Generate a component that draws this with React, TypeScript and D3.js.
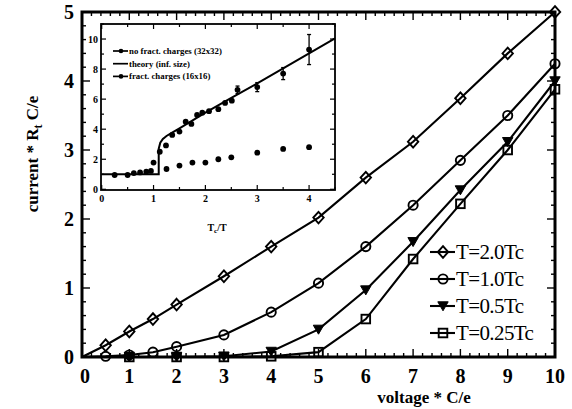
import React from "react";
import * as d3 from "d3";

// ---------- main plot data ----------
const xT20 = [0, 0.5, 1, 1.5, 2, 3, 4, 5, 6, 7, 8, 9, 10];
const yT20 = [0, 0.17, 0.37, 0.55, 0.76, 1.17, 1.6, 2.02, 2.6, 3.12, 3.75, 4.4, 5.0];
const xT10 = [0, 0.5, 1, 1.5, 2, 3, 4, 5, 6, 7, 8, 9, 10];
const yT10 = [0, 0.01, 0.03, 0.07, 0.15, 0.32, 0.65, 1.07, 1.6, 2.2, 2.85, 3.5, 4.25];
const xT05 = [0, 1, 2, 3, 4, 5, 6, 7, 8, 9, 10];
const yT05 = [0, 0, 0, 0.01, 0.08, 0.4, 0.97, 1.67, 2.42, 3.12, 4.0];
const xT025 = [0, 1, 2, 3, 4, 5, 6, 7, 8, 9, 10];
const yT025 = [0, 0, 0, 0, 0.01, 0.07, 0.55, 1.42, 2.22, 3.0, 3.88];
const seriesNames = ["T=2.0Tc", "T=1.0Tc", "T=0.5Tc", "T=0.25Tc"];
const xTicks = [0, 1, 2, 3, 4, 5, 6, 7, 8, 9, 10];
const yTicks = [0, 1, 2, 3, 4, 5];

// ---------- inset data ----------
const insetUpperX = [0.25, 0.5, 0.62, 0.74, 0.86, 0.95, 1.0, 1.12, 1.24, 1.36, 1.5, 1.62, 1.73, 1.84, 1.94, 2.07, 2.25, 2.38, 2.51, 2.62, 3.0, 3.5, 4.0];
const insetUpperY = [0.95, 0.95, 1.08, 1.12, 1.17, 1.22, 1.78, 2.5, 2.92, 3.62, 3.84, 4.5, 4.35, 4.95, 5.1, 5.2, 5.33, 5.75, 5.9, 6.62, 6.8, 7.7, 9.3];
const insetUpperErr = [0, 0, 0, 0, 0, 0, 0, 0, 0, 0, 0, 0, 0, 0, 0, 0, 0, 0, 0, 0.25, 0.3, 0.4, 1.0];
const insetLowerX = [1.25, 1.5, 1.75, 2.0, 2.25, 2.5, 3.0, 3.5, 4.0];
const insetLowerY = [1.35, 1.58, 1.78, 1.78, 2.0, 2.13, 2.44, 2.69, 2.8];
const theoryX = [0, 1.1, 1.1, 1.13, 1.18, 1.25, 1.35, 1.5, 2.0, 2.5, 3.0, 3.5, 4.0, 4.5];
const theoryY = [1.0, 1.0, 2.7, 3.1, 3.35, 3.55, 3.75, 4.05, 5.1, 6.08, 7.05, 8.05, 9.05, 10.05];
const insetXTicks = [0, 1, 2, 3, 4];
const insetYTicks = [0, 2, 4, 6, 8, 10];
const insetLegend = ["no fract. charges (32x32)", "theory (inf. size)", "fract. charges (16x16)"];

const FONT = "'Liberation Serif', 'DejaVu Serif', serif";

function Marker({ kind, x, y }: { kind: number; x: number; y: number }) {
  const s = 5.2;
  if (kind === 0)
    return <path d={`M${x},${y - s - 0.6}L${x + s},${y}L${x},${y + s + 0.6}L${x - s},${y}Z`} fill="none" stroke="#000" strokeWidth={1.9} />;
  if (kind === 1) return <circle cx={x} cy={y} r={4.6} fill="none" stroke="#000" strokeWidth={1.9} />;
  if (kind === 2)
    return <path d={`M${x - 5.2},${y - 4.2}L${x + 5.2},${y - 4.2}L${x},${y + 4.8}Z`} fill="#000" stroke="#000" strokeWidth={1} />;
  return <rect x={x - 4.3} y={y - 4.3} width={8.6} height={8.6} fill="none" stroke="#000" strokeWidth={1.9} />;
}

export default function App() {
  const W = 572, H = 409;
  const L = 82, R = 555, T = 12, B = 357;
  const x = d3.scaleLinear().domain([0, 10]).range([L, R]);
  const y = d3.scaleLinear().domain([0, 5]).range([B, T]);

  const series = [
    { xs: xT20, ys: yT20 },
    { xs: xT10, ys: yT10 },
    { xs: xT05, ys: yT05 },
    { xs: xT025, ys: yT025 },
  ];
  const line = d3.line<[number, number]>().x((d) => x(d[0])).y((d) => y(d[1]));

  // inset
  const iL = 101, iR = 335, iT = 24, iB = 190;
  const ix = d3.scaleLinear().domain([0, 4.5]).range([iL + 0.7, iR]);
  const iy = d3.scaleLinear().domain([0, 11]).range([iB - 0.7, iT]);
  const iline = d3.line<[number, number]>().x((d) => ix(d[0])).y((d) => iy(d[1]));

  const xMinor = d3.range(0, 10.001, 0.2);
  const yMinor = d3.range(0, 5.001, 0.2);
  const ixMinor = d3.range(0, 4.501, 0.5);
  const iyMinor = d3.range(0, 11.001, 1);

  return (
    <svg width={W} height={H} style={{ position: "fixed", left: 0, top: 0, background: "#fff" }} fontFamily={FONT}>
      <rect width={W} height={H} fill="#fff" />
      {/* main minor ticks */}
      <g stroke="#000" strokeWidth={1.4}>
        {xMinor.map((v, i) => {
          const major = Math.abs(v - Math.round(v)) < 1e-6;
          const len = major ? 8 : 4;
          return (
            <g key={"xm" + i}>
              <line x1={x(v)} x2={x(v)} y1={B} y2={B - len} />
              <line x1={x(v)} x2={x(v)} y1={T} y2={T + len} />
            </g>
          );
        })}
        {yMinor.map((v, i) => {
          const major = Math.abs(v - Math.round(v)) < 1e-6;
          const len = major ? 8 : 4;
          return (
            <g key={"ym" + i}>
              <line x1={L} x2={L + len} y1={y(v)} y2={y(v)} />
              <line x1={R} x2={R - len} y1={y(v)} y2={y(v)} />
            </g>
          );
        })}
      </g>
      {/* series lines */}
      {series.map((s, k) => (
        <path key={"l" + k} d={line(s.xs.map((v, i) => [v, s.ys[i]] as [number, number])) || ""} fill="none" stroke="#000" strokeWidth={2.1} />
      ))}
      {series.map((s, k) =>
        s.xs.map((v, i) => (v === 0 ? null : <Marker key={`m${k}-${i}`} kind={k} x={x(v)} y={y(s.ys[i])} />))
      )}
      {/* frame */}
      <rect x={L} y={T} width={R - L} height={B - T} fill="none" stroke="#000" strokeWidth={3} />
      {/* tick labels */}
      <g fontSize={20} fontWeight="bold" fill="#000">
        {xTicks.map((v) => (
          <text key={"xt" + v} x={x(v) + (v === 0 ? 3 : 0)} y={383} textAnchor="middle">{v}</text>
        ))}
        {yTicks.map((v) => (
          <text key={"yt" + v} x={L - 8} y={y(v) + 7} textAnchor="end">{v}</text>
        ))}
      </g>
      {/* axis titles */}
      <text x={424} y={403} textAnchor="middle" fontSize={17} fontWeight="bold">voltage * C/e</text>
      <text transform="translate(38,154) rotate(-90)" textAnchor="middle" fontSize={17} fontWeight="bold">
        current * R<tspan fontSize={12} dy={4}>t</tspan><tspan dy={-4}> C/e</tspan>
      </text>
      {/* legend */}
      {seriesNames.map((n, k) => {
        const ly = 252 + k * 27;
        return (
          <g key={"lg" + k}>
            <line x1={430} x2={455} y1={ly} y2={ly} stroke="#000" strokeWidth={2.1} />
            <Marker kind={k} x={443} y={ly} />
            <text x={456} y={ly + 7} fontSize={21} letterSpacing={-0.6}>{n}</text>
          </g>
        );
      })}

      {/* inset */}
      <rect x={iL} y={iT} width={iR - iL} height={iB - iT} fill="#fff" />
      <g stroke="#000" strokeWidth={1.2}>
        {ixMinor.map((v, i) => {
          const len = Math.abs(v - Math.round(v)) < 1e-6 ? 5 : 3;
          return (
            <g key={"ixm" + i}>
              <line x1={ix(v)} x2={ix(v)} y1={iB} y2={iB - len} />
              <line x1={ix(v)} x2={ix(v)} y1={iT} y2={iT + len} />
            </g>
          );
        })}
        {iyMinor.map((v, i) => {
          const len = v % 2 === 0 ? 5 : 3;
          return (
            <g key={"iym" + i}>
              <line x1={iL} x2={iL + len} y1={iy(v)} y2={iy(v)} />
              <line x1={iR} x2={iR - len} y1={iy(v)} y2={iy(v)} />
            </g>
          );
        })}
      </g>
      <path d={iline(theoryX.map((v, i) => [v, theoryY[i]] as [number, number])) || ""} fill="none" stroke="#000" strokeWidth={2} />
      {insetUpperX.map((v, i) =>
        insetUpperErr[i] > 0 ? (
          <g key={"eb" + i} stroke="#000" strokeWidth={1.3}>
            <line x1={ix(v)} x2={ix(v)} y1={iy(insetUpperY[i] - insetUpperErr[i])} y2={iy(insetUpperY[i] + insetUpperErr[i])} />
            <line x1={ix(v) - 2} x2={ix(v) + 2} y1={iy(insetUpperY[i] - insetUpperErr[i])} y2={iy(insetUpperY[i] - insetUpperErr[i])} />
            <line x1={ix(v) - 2} x2={ix(v) + 2} y1={iy(insetUpperY[i] + insetUpperErr[i])} y2={iy(insetUpperY[i] + insetUpperErr[i])} />
          </g>
        ) : null
      )}
      {insetUpperX.map((v, i) => (
        <circle key={"iu" + i} cx={ix(v)} cy={iy(insetUpperY[i])} r={2.9} fill="#000" />
      ))}
      {insetLowerX.map((v, i) => (
        <circle key={"il" + i} cx={ix(v)} cy={iy(insetLowerY[i])} r={2.9} fill="#000" />
      ))}
      <rect x={iL} y={iT} width={iR - iL} height={iB - iT} fill="none" stroke="#000" strokeWidth={1.8} />
      <g fontSize={10} fontWeight="bold">
        {insetXTicks.map((v) => (
          <text key={"ixt" + v} x={ix(v)} y={202} textAnchor="middle">{v}</text>
        ))}
        {insetYTicks.map((v) => (
          <text key={"iyt" + v} x={iL - 3} y={iy(v) + 3.5} textAnchor="end">{v}</text>
        ))}
      </g>
      <text x={217} y={231} textAnchor="middle" fontSize={10} fontWeight="bold">
        T<tspan fontSize={7} dy={2}>c</tspan><tspan dy={-2}>/T</tspan>
      </text>
      {insetLegend.map((n, k) => {
        const ly = 51 + k * 12.7;
        return (
          <g key={"ilg" + k}>
            <line x1={113} x2={128} y1={ly} y2={ly} stroke="#000" strokeWidth={1.7} />
            {k !== 1 ? <circle cx={121} cy={ly} r={2.3} fill="#000" /> : null}
            <text x={129} y={ly + 3} fontSize={8.8} fontWeight="bold">{n}</text>
          </g>
        );
      })}
    </svg>
  );
}
